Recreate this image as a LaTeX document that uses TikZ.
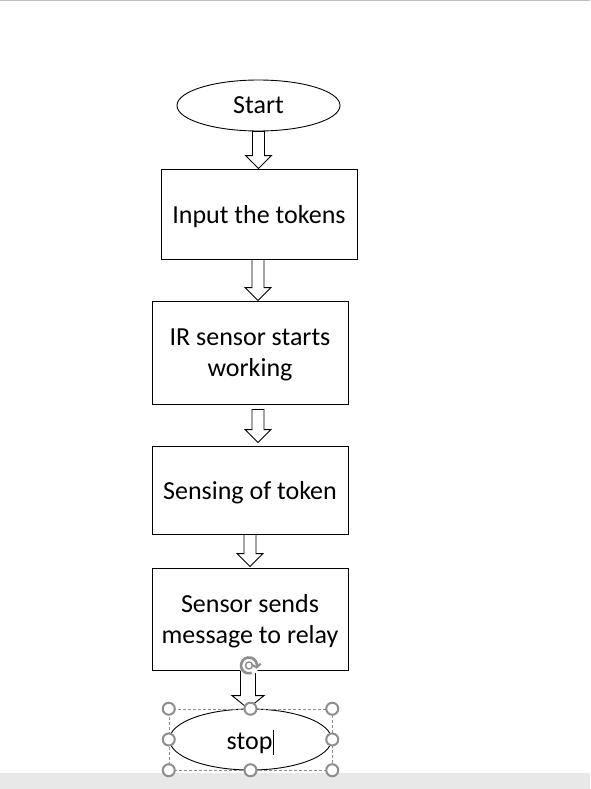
\documentclass[tikz,border=0pt]{standalone}
\usepackage{fontspec}
\setmainfont{Carlito}
\usetikzlibrary{shapes.geometric,calc}
\definecolor{handlegray}{HTML}{8E8E8E}
\definecolor{bargray}{HTML}{E8E8E8}

\begin{document}
\begin{tikzpicture}[x=1pt,y=-1pt,line width=0.9pt,
                    font=\fontsize{26}{31}\selectfont,
                    term/.style={draw,ellipse,inner sep=0pt,text depth=0pt,minimum width=163pt,minimum height=51pt},
                    box/.style={draw,rectangle,align=center,text depth=0pt,minimum width=196pt},
                    blockarrow/.style 2 args={fill=white,to path={
                      let \p1=(\tikztostart), \p2=(\tikztotarget) in
                      (\x1-#1,\y1) -- (\x1-#1,\y2+13pt) -- (\x1-#2,\y2+13pt) -- (\x1,\y2)
                      -- (\x1+#2,\y2+13pt) -- (\x1+#1,\y2+13pt) -- (\x1+#1,\y1) -- cycle}},
                    selbox/.style={draw=handlegray,densely dashed,line width=0.5pt,inner sep=0pt},
                    handle/.style={draw=handlegray,fill=white,line width=2pt}]

  \useasboundingbox (0,0) rectangle (590,789);
  \draw[gray!50] (0,0.5) -- (590,0.5);
  \fill[bargray] (0,773) rectangle (590,789);

  \node[term]                         (start) at (258.5,105.5) {Start};
  \node[box,minimum height=90pt]      (input) at (259,214)     {Input the tokens};
  \node[box,minimum height=103pt]     (ir)    at (250,352.5)   {IR sensor starts\\working};
  \node[box,minimum height=88pt]      (sense) at (250,490)     {Sensing of token};
  \node[box,minimum height=102pt]     (relay) at (250,619)     {Sensor sends\\message to relay};
  \node[term,minimum width=162pt,minimum height=61pt]
                                      (stop)  at (250.5,739.5) {stop\kern1pt\rule[-6pt]{0.9pt}{25pt}};

  \draw[blockarrow={6pt}{13pt}] (start.south) to (input.north);
  \draw[blockarrow={6pt}{13pt}] ([xshift=-1pt]input.south) to (ir.north);
  \draw[blockarrow={6pt}{13pt}] ([xshift=8pt,yshift=-5pt]ir.south) to ([yshift=3pt]sense.north);
  \draw[blockarrow={6pt}{13pt}] (sense.south) to ([yshift=1pt]relay.north);
  \draw[blockarrow={7.5pt}{16pt}] ([xshift=-2pt]relay.south) to (stop.north);

  % selection frame round the stop shape
  \node[selbox,minimum width=163pt,minimum height=61pt] (frame) at (250.5,739.5) {};
  \foreach \a in {north west,north,north east,west,east,south west,south,south east}
    \draw[handle] (frame.\a) circle (6pt);

  \coordinate (rot) at ([xshift=-1pt,yshift=5pt]relay.south);
  \fill[white] (rot) circle (10pt);
  \draw[handlegray,line width=2.6pt] ([shift={(-15:8pt)}]rot) arc (-15:290:8pt);
  \draw[handlegray,line width=2pt] ([shift={(-15:8pt)}]rot) ++(-5pt,3pt) -- ++(5pt,-3pt) -- ++(4pt,4pt);
  \draw[handlegray,line width=1.4pt] (rot) circle (3.5pt);

\end{tikzpicture}
\end{document}
